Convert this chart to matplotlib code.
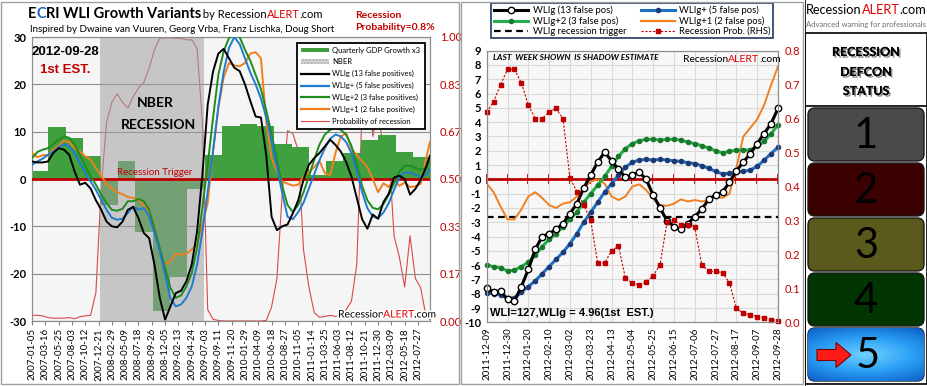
import numpy as np
import pandas as pd
import matplotlib
matplotlib.use("Agg")
import matplotlib.pyplot as plt
import matplotlib.dates as mdates
import matplotlib.patheffects as pe
from matplotlib.patches import Rectangle, FancyBboxPatch, Patch, FancyArrow
from matplotlib.lines import Line2D
from matplotlib.colors import LinearSegmentedColormap

plt.rcParams['font.family'] = ['Lato', 'DejaVu Sans']
NARROW = ['Liberation Sans Narrow', 'Liberation Sans', 'DejaVu Sans']

W, H = 928, 386

# ---------------- left chart: weekly WLI growth, sampled every 4 weeks ----------------
left_dates = list(pd.date_range("2007-01-05", "2012-09-07", freq="28D")) + [pd.Timestamp("2012-09-28")]

wlig = [3.7, 3.5, 3.5, 3.7, 5.5, 6.5, 6.2, 5.1, 1.6, -1.2, -0.8, -2.0, -4.5, -6.5, -9.0, -10.0, -10.2, -9.0, -6.5,
        -5.9, -8.3, -11.4, -12.5, -18.1, -25.1, -29.7, -26.9, -24.1, -23.6, -21.6, -18.1, -11.1, 0.9, 15.7, 22.7, 26.5, 27.5, 25.5,
        23.5, 22.8, 20.0, 16.5, 13.2, 13.0, 5.0, -8.0, -10.8, -10.0, -9.6, -7.2, -4.5, -0.1, 3.0, 4.4, 5.5, 6.9, 8.3,
        7.2, 5.8, 3.6, 0.5, -4.0, -8.5, -10.5, -7.5, -8.4, -4.9, -3.1, 0.3, 0.7, 0.0, -3.3, -2.1, -0.2, 2.5, 4.96]
wlig_plus = [3.0, 3.7, 4.3, 5.1, 5.8, 6.7, 7.4, 6.9, 5.5, 3.4, 1.3, -0.5, -2.3, -4.4, -6.5, -8.2, -8.6, -8.4, -7.2,
             -5.8, -6.5, -6.1, -7.9, -11.4, -15.3, -20.2, -25.2, -26.9, -26.5, -25.1, -22.7, -18.1, -11.1, -2.6, 5.8, 15.3, 22.7, 27.7,
             30.0, 28.5, 25.5, 22.5, 20.0, 17.0, 13.0, 8.2, 2.5, -3.0, -8.0, -8.5, -7.0, -5.0, -2.0, 1.0, 4.0, 6.5, 8.5,
             9.4, 9.0, 7.8, 5.5, 1.7, -2.8, -6.2, -7.9, -8.3, -7.1, -5.1, -2.3, 0.3, 1.4, 1.3, 0.95, 0.42, 0.9, 2.25]
wlig_plus2 = [4.4, 5.7, 6.2, 6.5, 7.4, 8.3, 9.0, 8.7, 7.3, 5.1, 2.7, 0.6, -1.2, -3.3, -5.1, -6.5, -6.7, -6.3, -4.7,
              -4.7, -4.2, -4.7, -6.5, -10.4, -14.6, -18.8, -23.0, -25.1, -24.6, -22.7, -19.9, -14.6, -6.1, 3.0, 12.9, 22.0, 27.0, 29.8,
              30.3, 30.0, 27.3, 25.0, 22.0, 19.0, 14.5, 9.5, 4.0, -1.5, -5.5, -7.0, -5.5, -2.8, 0.5, 4.1, 7.3, 9.4, 10.4,
              10.8, 10.4, 9.4, 7.0, 3.0, -1.5, -4.5, -6.1, -6.4, -5.3, -3.3, -1.0, 1.6, 2.8, 2.8, 2.35, 1.95, 2.3, 3.8]
wlig_plus1 = [5.5, 4.6, 5.0, 5.1, 6.2, 7.0, 8.1, 7.8, 6.5, 5.8, 4.8, 4.1, 2.3, 0.6, -1.0, -2.0, -2.8, -3.2, -3.8,
              -4.0, -4.4, -5.6, -6.8, -10.0, -15.6, -18.1, -17.4, -15.8, -16.0, -15.8, -14.9, -13.9, -9.6, -5.1, 6.0, 15.0, 21.5, 24.5,
              24.0, 23.8, 24.5, 26.5, 26.8, 25.5, 12.0, 4.5, 1.5, -0.5, -1.0, -1.4, -1.2, 0.5, 1.5, 2.5, 3.8, 1.2, 0.8,
              5.5, 9.0, 9.6, 6.5, 5.0, 3.8, 2.5, 0.0, -2.8, -0.9, -1.7, -0.15, -1.45, -0.75, -1.7, -1.55, -1.0, 4.2, 7.9]
rec_prob = [0.02, 0.02, 0.018, 0.012, 0.01, 0.01, 0.01, 0.012, 0.008, 0.015, 0.018, 0.02, 0.10, 0.47, 0.70, 0.77, 0.80, 0.77, 0.75,
            0.79, 0.82, 0.84, 0.89, 0.955, 0.995, 0.997, 0.997, 0.995, 0.995, 0.99, 0.99, 0.96, 0.70, 0.04, 0.006, 0.002, 0.0, 0.0,
            0.0, 0.0, 0.0, 0.0, 0.0, 0.0, 0.002, 0.05, 0.15, 0.45, 0.67, 0.66, 0.60, 0.25, 0.12, 0.03, 0.013, 0.016, 0.02,
            0.016, 0.02, 0.04, 0.07, 0.20, 0.75, 0.90, 0.65, 0.745, 0.60, 0.60, 0.30, 0.225, 0.12, 0.30, 0.15, 0.117, 0.017, 0.005]

gdp_quarters = pd.date_range("2007-01-01", periods=23, freq="QS")
gdp_x3 = [1.6, 11.0, 8.7, 4.9, -5.4, 3.9, -11.3, -27.8, -20.6, -2.1, 5.0, 11.3, 11.6, 11.1, 7.4, 6.8,
          0.9, 3.9, 5.4, 8.3, 9.2, 5.8, 4.6]
nber_start, nber_end = "2007-12-28", "2009-06-30"
left_ticks = pd.date_range("2007-01-05", periods=30, freq="70D")

# ---------------- right chart: last 43 weeks ----------------
right_dates = pd.date_range("2011-12-09", periods=43, freq="7D")
r_wlig = [-7.6, -7.9, -7.8, -8.4, -8.5, -7.5, -6.3, -4.9, -4.0, -3.8, -3.5, -3.1, -2.4, -1.7, -0.6, 0.3, 1.2, 1.9, 1.3, 0.7,
          0.15, 0.3, 0.5, 0.0, -1.1, -2.0, -2.9, -3.3, -3.5, -3.1, -2.6, -2.1, -1.4, -1.1, -0.9, -0.2, 0.6, 1.2, 1.8, 2.5,
          3.2, 3.9, 4.96]
r_plus = [-7.95, -8.0, -8.1, -8.3, -8.3, -7.9, -7.5, -7.1, -6.6, -6.1, -5.6, -5.1, -4.5, -3.8, -3.0, -2.3, -1.6, -0.9, -0.3, 0.3,
          0.85, 1.2, 1.35, 1.4, 1.35, 1.4, 1.35, 1.3, 1.25, 1.17, 1.1, 0.95, 0.78, 0.55, 0.38, 0.42, 0.52, 0.55, 0.65, 0.9,
          1.35, 1.8, 2.25]
r_plus2 = [-6.0, -6.1, -6.2, -6.4, -6.35, -6.1, -5.8, -5.3, -4.7, -4.2, -3.8, -3.3, -2.8, -2.3, -1.6, -1.0, -0.4, 0.2, 0.9, 1.6,
           2.15, 2.5, 2.7, 2.8, 2.8, 2.75, 2.8, 2.8, 2.75, 2.6, 2.5, 2.35, 2.2, 2.0, 1.85, 1.95, 2.05, 2.05, 2.05, 2.3,
           2.65, 3.2, 3.8]
r_plus1 = [-0.3, -0.9, -1.9, -2.8, -2.8, -2.1, -1.2, -0.9, -1.3, -1.8, -2.0, -1.7, -1.6, -1.2, -0.6, -0.15, 0.0, -0.3, -1.2, -1.45,
           -1.2, -0.5, -0.35, -0.75, -1.35, -1.8, -1.85, -1.7, -1.4, -1.55, -1.45, -1.55, -1.45, -1.2, -1.3, -1.0, 0.8, 3.0, 3.6, 4.2,
           5.2, 6.6, 7.9]
r_prob = [0.62, 0.65, 0.70, 0.745, 0.745, 0.705, 0.64, 0.60, 0.60, 0.62, 0.63, 0.60, 0.425, 0.385, 0.345, 0.30, 0.175, 0.175, 0.21, 0.225,
          0.13, 0.115, 0.11, 0.12, 0.137, 0.17, 0.295, 0.30, 0.287, 0.287, 0.28, 0.17, 0.15, 0.15, 0.146, 0.117, 0.041, 0.027, 0.022, 0.017,
          0.014, 0.008, 0.005]
wlig_trigger = -2.65
right_ticks = pd.date_range("2011-12-09", periods=15, freq="21D")

defcon_levels = ["1", "2", "3", "4", "5"]
defcon_colors = ["#4a4a4a", "#3b0000", "#5a5a1c", "#013501", None]
current_level = "5"

RED = '#c00000'

fig = plt.figure(figsize=(W / 100, H / 100), dpi=100)
fig.patch.set_facecolor('white')


def fpos(x0, y0, x1, y1):
    return [x0 / W, 1 - y1 / H, (x1 - x0) / W, (y1 - y0) / H]


def put_text(px, py, parts, size, weight='normal', style='normal', family=None, effects=None):
    r = fig.canvas.get_renderer()
    x = px
    for s, c in parts:
        kw = dict(fontsize=size, fontweight=weight, fontstyle=style, va='center', ha='left', color=c)
        if family:
            kw['family'] = family
        t = fig.text(x / W, 1 - py / H, s, **kw)
        if effects:
            t.set_path_effects(effects)
        x += t.get_window_extent(renderer=r).width


# panel frames
fig.add_artist(Rectangle((1.5 / W, 1 - 384 / H), 458 / W, 382.5 / H, transform=fig.transFigure,
                         fill=False, ec='#a0a0a0', lw=1))
fig.add_artist(Rectangle((461.5 / W, 1 - 384 / H), 342 / W, 382.5 / H, transform=fig.transFigure,
                         fill=False, ec='#a0a0a0', lw=1))

# ======================= LEFT CHART =======================
ax = fig.add_axes(fpos(32, 37, 430, 321))
axp = ax.twinx()
ax.set_zorder(axp.get_zorder() + 1)
ax.patch.set_visible(False)
axp.patch.set_visible(True)
axp.set_facecolor('#f5f5f5')

ld = mdates.date2num(left_dates)
q = mdates.date2num(gdp_quarters)
qw = np.diff(np.append(q, mdates.date2num(pd.Timestamp("2012-10-01"))))
ax.bar(q, gdp_x3, width=qw, align='edge', color='#40a040', lw=0, zorder=1)
ax.axvspan(mdates.date2num(pd.Timestamp(nber_start)), mdates.date2num(pd.Timestamp(nber_end)),
           color='#a0a0a0', alpha=0.55, lw=0, zorder=2)
ax.axhline(0, color=RED, lw=2, zorder=3)
ax.plot(ld, wlig_plus1, color='#f07f1e', lw=1.4, zorder=4)
ax.plot(ld, wlig_plus2, color='#1e8c1e', lw=1.4, zorder=5)
ax.plot(ld, wlig_plus, color='#1f7ad0', lw=1.4, zorder=6)
ax.plot(ld, wlig, color='black', lw=1.4, zorder=7)
axp.plot(ld, rec_prob, color='#d84848', lw=0.8)

ax.set_xlim(mdates.date2num(pd.Timestamp("2007-01-05")), mdates.date2num(pd.Timestamp("2012-09-28")))
ax.set_ylim(-30, 30)
axp.set_ylim(0, 1)
ax.set_yticks(range(-30, 31, 10))
ax.set_yticklabels([str(v) for v in range(-30, 31, 10)], fontweight='bold', fontsize=8)
axp.set_yticks(np.linspace(0, 1, 7))
axp.set_yticklabels([f"{v:.2f}" for v in np.linspace(0, 1, 7)], color=RED, fontsize=8)
ax.set_xticks(mdates.date2num(left_ticks))
ax.set_xticklabels([d.strftime("%Y-%m-%d") for d in left_ticks], rotation=90, fontsize=7)
ax.tick_params(axis='y', length=0, pad=4)
ax.tick_params(axis='x', length=3, color='#808080', pad=2)
axp.tick_params(axis='y', length=0, pad=7)
ax.yaxis.grid(True, color='#8c8c8c', lw=0.8)
ax.set_axisbelow(True)
for a in (ax, axp):
    for s in a.spines.values():
        s.set_color('#8c8c8c')
        s.set_linewidth(0.8)

ax.text(mdates.date2num(pd.Timestamp("2008-03-28")), 1.3, "Recession Trigger", color=RED, fontsize=7,
        va='center', ha='left', zorder=8)

left_handles = [Patch(fc='#40a040', lw=0), Patch(fc='#d2d2d2', ec='#b0b0b0', hatch='.....', lw=0),
                Line2D([], [], color='black', lw=1.6), Line2D([], [], color='#1f7ad0', lw=1.6),
                Line2D([], [], color='#1e8c1e', lw=1.6), Line2D([], [], color='#f07f1e', lw=1.6),
                Line2D([], [], color='#d84848', lw=0.8)]
left_labels = ["Quarterly GDP Growth x3", "NBER", "WLIg (13 false positives)", "WLIg+ (5 false positives)",
               "WLIg+2 (3 false positives)", "WLIg+1 (2 false positive)", "Probability of recession"]
lg = ax.legend(left_handles, left_labels, loc='upper right', bbox_to_anchor=(0.996, 0.994), fontsize=5.5,
               frameon=True, fancybox=False, edgecolor='black', framealpha=1, handlelength=3.6,
               handleheight=0.6, labelspacing=0.62, borderpad=0.55, handletextpad=0.5)
lg.get_frame().set_linewidth(1.3)
lg.set_zorder(20)

# left titles
put_text(28, 14, [("E", "black"), ("C", "#1f5fbf"), ("RI WLI Growth Variants", "black")], 10.5, weight='bold')
put_text(200, 15, [(" by Recession", "black"), ("ALERT", "#e00000"), (".com", "black")], 8)
put_text(30, 29, [("Inspired by Dwaine van Vuuren, Georg Vrba, Franz Lischka, Doug Short", "black")], 7)
put_text(355, 15, [("Recession", RED)], 7.5, weight='bold')
put_text(355, 28, [("Probability=0.8%", RED)], 7.5, weight='bold')
fig.text(65 / W, 1 - 52 / H, "2012-09-28", fontsize=9.5, fontweight='bold', ha='center', va='center', family=NARROW)
fig.text(65 / W, 1 - 70 / H, "1st EST.", fontsize=9.5, fontweight='bold', ha='center', va='center', color=RED,
         family=NARROW)
fig.text(155 / W, 1 - 103 / H, "NBER", fontsize=10, fontweight='bold', ha='center', va='center')
fig.text(159 / W, 1 - 125 / H, "RECESSION", fontsize=10, fontweight='bold', ha='center', va='center')
glow = [pe.withStroke(linewidth=2.5, foreground='white')]
put_text(338, 315, [("Recession", "black"), ("ALERT", "#e00000"), (".com", "black")], 7.5, effects=glow)

# ======================= RIGHT CHART =======================
axr = fig.add_axes(fpos(486.7, 50.7, 778, 322.3))
axr2 = axr.twinx()
rd = mdates.date2num(right_dates)
axr.set_facecolor('#f7f7f7')
axr.axhline(0, color=RED, lw=2, zorder=2)
axr.axhline(wlig_trigger, color='black', lw=1.6, dashes=(3, 2), zorder=2)
axr.plot(rd, r_plus1, color='#f08020', lw=1.4, zorder=3)
axr.plot(rd, r_plus, color='#1f70c4', lw=2.2, marker='o', ms=3, mfc='#1f3a73', mec='#1f3a73', zorder=4, clip_on=False)
axr.plot(rd, r_plus2, color='#23b04a', lw=2.2, marker='o', ms=3, mfc='#18782c', mec='#18782c', zorder=5, clip_on=False)
axr.plot(rd, r_wlig, color='black', lw=2.2, marker='o', ms=4.6, mfc='white', mec='black', mew=1, zorder=6,
         clip_on=False)
axr2.plot(rd, r_prob, color=RED, lw=0.8, ls=(0, (2, 1.5)), marker='s', ms=3.2, mfc=RED, mec=RED, clip_on=False)

axr.set_xlim(rd[0], rd[-1])
axr.set_ylim(-10, 9)
axr2.set_ylim(0, 0.8)
axr.set_yticks(range(-10, 10))
axr.set_yticklabels([str(v) for v in range(-10, 10)], fontweight='bold', fontsize=8)
axr2.set_yticks(np.arange(0, 0.81, 0.1))
axr2.set_yticklabels([f"{v:.1f}" for v in np.arange(0, 0.81, 0.1)], color=RED, fontsize=8)
axr.set_xticks(mdates.date2num(right_ticks))
axr.set_xticklabels([d.strftime("%Y-%m-%d") for d in right_ticks], rotation=90, fontsize=7)
axr.tick_params(axis='both', length=0, pad=4)
axr2.tick_params(axis='y', length=0, pad=5)
axr.grid(True, color='#d9d9d9', lw=0.8)
axr.set_axisbelow(True)
for a in (axr, axr2):
    for s in a.spines.values():
        s.set_color('#8c8c8c')
        s.set_linewidth(0.8)

# tick marks on the red zero line
zero_ax = axr.secondary_xaxis(10 / 19)
zero_ax.set_xticks(mdates.date2num(right_ticks))
zero_ax.tick_params(axis='x', labelbottom=False, labeltop=False, direction='inout', length=7, width=1.3, color=RED)
for s in zero_ax.spines.values():
    s.set_visible(False)

right_handles = [Line2D([], [], color='black', lw=2.2, marker='o', ms=4.6, mfc='white', mec='black'),
                 Line2D([], [], color='#23b04a', lw=2.2, marker='o', ms=3, mfc='#18782c', mec='#18782c'),
                 Line2D([], [], color='black', lw=1.6, dashes=(3, 2)),
                 Line2D([], [], color='#1f70c4', lw=2.2, marker='o', ms=3, mfc='#1f3a73', mec='#1f3a73'),
                 Line2D([], [], color='#f08020', lw=1.6),
                 Line2D([], [], color=RED, lw=0.8, ls=(0, (2, 1.5)), marker='s', ms=3.2, mfc=RED, mec=RED)]
right_labels = ["WLIg (13 false pos)", "WLIg+2 (3 false pos)", "WLIg recession trigger",
                "WLIg+ (5 false pos)", "WLIg+1 (2 false pos)", "Recession Prob. (RHS)"]
rl = axr2.legend(right_handles, right_labels, loc='lower left', bbox_to_anchor=(0, 1.028, 1, 0.151), mode='expand',
                 ncol=2, fontsize=6.8, frameon=True, fancybox=False, edgecolor='#1f3864', framealpha=1,
                 handlelength=3.6, labelspacing=0.12, borderpad=0.25, handletextpad=0.5, columnspacing=1.2)
rl.get_frame().set_linewidth(1.2)

put_text(493, 58, [("LAST  WEEK SHOWN  IS SHADOW ESTIMATE", "black")], 6, weight='bold', style='italic')
put_text(683, 60, [("Recession", "black"), ("ALERT", "#e00000"), (".com", "black")], 7.5)
put_text(490, 313, [("WLI=127,WLIg = 4.96(1st  EST.)", "black")], 8, weight='bold', family=NARROW)

# ======================= DEFCON PANEL =======================
axd = fig.add_axes(fpos(805, 0, 928, 386))
axd.set_xlim(805, 928)
axd.set_ylim(386, 0)
axd.axis('off')
axd.plot([805, 805], [0, 386], color='black', lw=1.2)
axd.add_patch(Rectangle((805.5, 33), 121.5, 351, fill=False, ec='black', lw=1.2))
axd.plot([805.5, 927], [106, 106], color='black', lw=1.2)
put_text(806, 10, [("Recession", "black"), ("ALERT", "#e00000"), (".com", "black")], 9.2)
fig.text(866 / W, 1 - 24 / H, "Advanced warning for professionals", fontsize=5.5, color='#6e6e6e',
         ha='center', va='center')
shadow = [pe.withSimplePatchShadow(offset=(1.2, -1.2), alpha=0.45), pe.Normal()]
for txt, yy in zip(["RECESSION", "DEFCON", "STATUS"], [52, 72, 91]):
    t = fig.text(866 / W, 1 - yy / H, txt, fontsize=9, fontweight='bold', ha='center', va='center')
    t.set_path_effects(shadow)

tops = [108, 163, 218, 273, 328]
for lvl, col, y0 in zip(defcon_levels, defcon_colors, tops):
    box = FancyBboxPatch((808, y0), 116, 53, boxstyle="round,pad=0,rounding_size=7",
                         fc=col if col else '#1a8ef0', ec='#1a1a1a', lw=1, zorder=2)
    axd.add_patch(box)
    if col is None:
        yy, xx = np.mgrid[-1:1:60j, -1:1:120j]
        rr = np.sqrt(xx ** 2 + (yy * 1.3) ** 2)
        cmap = LinearSegmentedColormap.from_list('b5', ['#6fd0ff', '#2a9ff5', '#0c5fc6'])
        im = axd.imshow(rr, cmap=cmap, extent=(808, 924, y0 + 53, y0), aspect='auto', zorder=3)
        im.set_clip_path(box)
    axd.text(866 if lvl != current_level else 868, y0 + 28, lvl, fontsize=30, fontweight='normal',
             ha='center', va='center', color='black', zorder=5)
axd.add_patch(FancyArrow(817, 355, 34, 0, width=11, head_width=25, head_length=15, length_includes_head=True,
                         fc='#ff1a1a', ec='#7a0000', lw=0.8, zorder=6))

fig.savefig("out.png", dpi=100)
